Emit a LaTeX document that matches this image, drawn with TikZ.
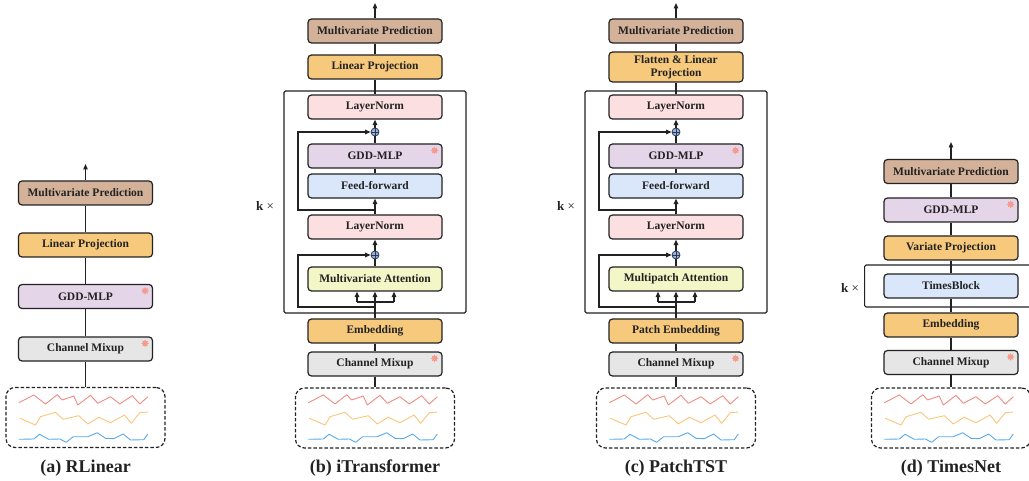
\documentclass[tikz,border=0pt]{standalone}
\usepackage{fontspec}
\setmainfont{Liberation Serif}
\usetikzlibrary{arrows.meta,shapes.geometric}
\definecolor{cMP}{HTML}{D3B299}
\definecolor{cLP}{HTML}{F7C97D}
\definecolor{cGD}{HTML}{E5D5E8}
\definecolor{cCM}{HTML}{E6E6E6}
\definecolor{cLN}{HTML}{FCDFE0}
\definecolor{cFF}{HTML}{DAE7FA}
\definecolor{cAT}{HTML}{F3F6C6}
\definecolor{cST}{HTML}{F59A8C}
\definecolor{sR}{HTML}{F28A82}
\definecolor{sO}{HTML}{F9C679}
\definecolor{sB}{HTML}{58A9EA}
\definecolor{cPL}{HTML}{1F3A66}
\definecolor{ink}{HTML}{222222}
\tikzset{
  blk/.style={draw=ink, line width=1.2pt, rounded corners=3.5pt, minimum width=134pt,
    minimum height=24pt, inner sep=0pt, text=ink, font=\bfseries\fontsize{11.5}{13}\selectfont},
  bigbox/.style={draw=ink, line width=1.2pt, rounded corners=1.5pt, minimum width=182pt,
    minimum height=222pt, inner sep=0pt},
  databox/.style={draw=ink, line width=1.2pt, dash pattern=on 3.5pt off 2pt, rounded corners=9pt,
    minimum width=159pt, minimum height=60pt, inner sep=0pt},
  conn/.style={draw=ink, line width=1.2pt},
  arr/.style={draw=ink, line width=1.2pt, -{Triangle[length=5.5pt,width=4.5pt]}},
  starnode/.style={star, star points=8, star point ratio=1.8, fill=cST, minimum size=8pt, inner sep=0pt},
  plusnode/.style={circle, draw=cPL, fill=cPL!40!white, line width=0.8pt, minimum size=8pt, inner sep=0pt,
    path picture={\draw[cPL,line width=0.8pt] (path picture bounding box.north) -- (path picture bounding box.south)
      (path picture bounding box.west) -- (path picture bounding box.east);}},
  sigR/.style={draw=sR, line width=0.9pt, line join=round},
  sigO/.style={draw=sO, line width=0.9pt, line join=round},
  sigB/.style={draw=sB, line width=0.9pt, line join=round},
  caption/.style={font=\bfseries\fontsize{18}{20}\selectfont, text=ink, inner sep=0pt},
  ktimes/.style={font=\fontsize{13}{15}\selectfont, text=ink, inner sep=0pt},
}
\newcommand{\sigs}[1]{%
\begin{scope}[shift={(#1,0)}]
\draw[sigR] (-66.7,402.7)--(-51.7,395)--(-40,404)--(-28.3,394.7)--(-23.3,400)--(-11.7,396)--(-7.7,405)--(5,395.3)--(12.3,403.3)--(25,396.7)--(34.3,404)--(46.7,395.7)--(54.3,404)--(62.3,396.7);
\draw[sigO] (-65.7,418.3)--(-50,425)--(-45,416.7)--(-30,412.3)--(-22.3,419.3)--(-6.7,415.7)--(2.3,424)--(13.3,417.3)--(25,422.7)--(39,415)--(45.7,423.3)--(54.3,412.7)--(62.3,412);
\draw[sigB] (-66.7,439.3)--(-51.7,439)--(-46,434.3)--(-36.7,439.3)--(-25.7,439)--(-19.3,442.3)--(-12.3,436.7)--(2.3,436.7)--(11.7,432.7)--(20,438.3)--(28.3,438.7)--(37.7,434)--(45,440)--(58.3,439.7)--(62.3,434);
\end{scope}}
\newcommand{\mystar}[1]{\node[starnode] (#1s) at ([xshift=-8pt,yshift=-7pt]#1.north east) {};}
% transformer panel: #1 prefix, #2 cx, #3 proj options, #4 proj text, #5 attention text, #6 embedding text
\newcommand{\tblock}[6]{%
\node[bigbox] (#1big) at (#2,202) {};
\node[blk,fill=cMP] (#1mp) at (#2,31) {Multivariate Prediction};
\node[blk,fill=cLP,#3] (#1lp) at (#2,67) {#4};
\node[blk,fill=cLN] (#1ln1) at (#2,107) {LayerNorm};
\node[plusnode] (#1p1) at (#2,132) {};
\node[blk,fill=cGD] (#1gd) at (#2,156) {GDD-MLP};
\mystar{#1gd}
\node[blk,fill=cFF] (#1ff) at (#2,186) {Feed-forward};
\node[blk,fill=cLN] (#1ln2) at (#2,227) {LayerNorm};
\node[plusnode] (#1p2) at (#2,255) {};
\node[blk,fill=cAT] (#1at) at (#2,279) {#5};
\node[blk,fill=cLP] (#1em) at (#2,331) {#6};
\node[blk,fill=cCM] (#1cm) at (#2,364) {Channel Mixup};
\mystar{#1cm}
\node[databox] (#1da) at (#2,418) {};
\sigs{#2}
\coordinate (#1top) at (#2,3);
\coordinate (#1bj) at (#2,302);
\coordinate (#1bl) at (#2-18,302);
\coordinate (#1br) at (#2+19,302);
\coordinate (#1s2) at (#2,307);
\coordinate (#1k2) at (#2-77,307);
\coordinate (#1s1) at (#2,210);
\coordinate (#1k1) at (#2-77,210);
\draw[conn] (#1da) -- (#1cm);
\draw[conn] (#1cm) -- (#1em);
\draw[conn] (#1em) -- (#1bj);
\draw[conn] (#1bl) -- (#1br);
\draw[arr] (#1bl) -- (#1bl |- #1at.south);
\draw[arr] (#1bj) -- (#1at);
\draw[arr] (#1br) -- (#1br |- #1at.south);
\draw[arr] (#1s2) -- (#1k2) |- (#1p2);
\draw[conn] (#1at) -- (#1p2);
\draw[arr] (#1p2) -- (#1ln2);
\draw[arr] (#1ln2) -- (#1ff);
\draw[arr] (#1s1) -- (#1k1) |- (#1p1);
\draw[conn] (#1ff) -- (#1gd);
\draw[conn] (#1gd) -- (#1p1);
\draw[arr] (#1p1) -- (#1ln1);
\draw[conn] (#1ln1) -- (#1lp);
\draw[conn] (#1lp) -- (#1mp);
\draw[arr] (#1mp) -- (#1top);
}
\begin{document}
\begin{tikzpicture}[x=1pt,y=-1pt]
\useasboundingbox (0,0) rectangle (1029,481);

% (a) RLinear
\node[blk,fill=cMP] (amp) at (85.5,193) {Multivariate Prediction};
\node[blk,fill=cLP] (alp) at (85.5,245) {Linear Projection};
\node[blk,fill=cGD] (agd) at (85.5,296.5) {GDD-MLP};
\mystar{agd}
\node[blk,fill=cCM] (acm) at (85.5,349) {Channel Mixup};
\mystar{acm}
\node[databox] (ada) at (85.5,417.5) {};
\sigs{85.5}
\coordinate (atop) at (85.5,164);
\draw[conn] (ada) -- (acm);
\draw[conn] (acm) -- (agd);
\draw[conn] (agd) -- (alp);
\draw[conn] (alp) -- (amp);
\draw[arr] (amp) -- (atop);
\node[caption] (acap) at (85.5,468) {(a) RLinear};

% (b) iTransformer
\tblock{b}{375}{}{Linear Projection}{Multivariate Attention}{Embedding}
\node[ktimes] (bk) at (265,206) {\textbf{k} ×};
\node[caption] (bcap) at (375,468) {(b) iTransformer};

% (c) PatchTST
\tblock{c}{676}{minimum height=30pt,align=center}{Flatten \& Linear\\Projection}{Multipatch Attention}{Patch Embedding}
\node[ktimes] (ck) at (566,206) {\textbf{k} ×};
\node[caption] (ccap) at (676,468) {(c) PatchTST};

% (d) TimesNet
\node[bigbox,minimum width=174pt,minimum height=42pt,anchor=west] (dbig) at (864,286) {};
\node[blk,fill=cMP] (dmp) at (951,171.5) {Multivariate Prediction};
\node[blk,fill=cGD] (dgd) at (951,210) {GDD-MLP};
\mystar{dgd}
\node[blk,fill=cLP] (dvp) at (951,248) {Variate Projection};
\node[blk,fill=cFF] (dtb) at (951,286) {TimesBlock};
\node[blk,fill=cLP] (dem) at (951,325) {Embedding};
\node[blk,fill=cCM] (dcm) at (951,362.5) {Channel Mixup};
\mystar{dcm}
\node[databox] (dda) at (951,418) {};
\sigs{951}
\coordinate (dtop) at (951,142);
\draw[conn] (dda) -- (dcm);
\draw[conn] (dcm) -- (dem);
\draw[conn] (dem) -- (dtb);
\draw[conn] (dtb) -- (dvp);
\draw[conn] (dvp) -- (dgd);
\draw[conn] (dgd) -- (dmp);
\draw[arr] (dmp) -- (dtop);
\node[ktimes] (dk) at (850,288) {\textbf{k} ×};
\node[caption] (dcap) at (951,468) {(d) TimesNet};
\end{tikzpicture}
\end{document}
